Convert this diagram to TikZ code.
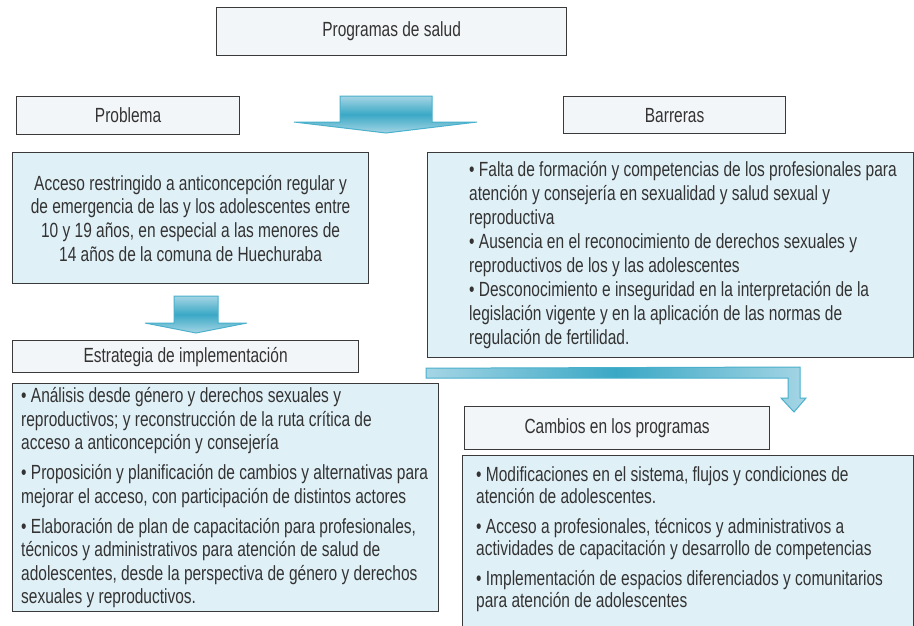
\documentclass[tikz,border=0pt]{standalone}
\usepackage{fontspec}
\setmainfont[FakeStretch=0.756]{Liberation Sans}
\usepackage{pgf,tikz}
\newcommand{\punto}{\textbullet\ }
\usetikzlibrary{shapes, arrows, positioning, calc}
\definecolor{borde}{HTML}{3A3A3A}
\definecolor{titulofondo}{HTML}{F3F6F8}
\definecolor{cajafondo}{HTML}{E0F0F7}
\definecolor{flechaclaro}{HTML}{A5D5E5}
\definecolor{flechaoscuro}{HTML}{3AA8C5}
\definecolor{flechaborde}{HTML}{4AB0CB}
\definecolor{letra}{HTML}{333333}
\tikzstyle{titulo} = [draw=borde, fill=titulofondo, line width=1.2pt, rectangle, anchor=north west, inner sep=0pt, text=letra, font=\fontsize{20.5}{24}\selectfont]
\tikzstyle{caja} = [draw=borde, fill=cajafondo, line width=1.2pt, rectangle, anchor=north west, inner sep=0pt, text=letra, font=\fontsize{20.5}{23.7}\selectfont]
\tikzstyle{lista} = [align=left, inner sep=0pt, text=letra, font=\fontsize{20.5}{23.5}\selectfont]
\tikzstyle{flecha} = [draw=flechaborde, line width=1pt, top color=flechaclaro, bottom color=flechaclaro, middle color=flechaoscuro]

\begin{document}
\begin{tikzpicture}[x=1pt, y=-1pt]
	\useasboundingbox (0,0) rectangle (914,625);
	% titulos
	\node[titulo, minimum width=350pt, minimum height=48pt] (programas) at (216,7) {Programas de salud};
	\node[titulo, minimum width=223pt, minimum height=38pt] (problema) at (16,96) {Problema};
	\node[titulo, minimum width=222pt, minimum height=37pt] (barreras) at (563,96) {Barreras};
	\node[titulo, minimum width=346pt, minimum height=32pt] (estrategia) at (12,340) {Estrategia de implementación};
	\node[titulo, minimum width=305pt, minimum height=43pt] (cambios) at (464,406) {Cambios en los programas};
	% cajas
	\node[caja, minimum width=356pt, minimum height=131pt, align=center] (acceso) at (12,152) {%
		Acceso restringido a anticoncepción regular y\\
		de emergencia de las y los adolescentes entre\\
		10 y 19 años, en especial a las menores de\\
		14 años de la comuna de Huechuraba};
	\node[caja, minimum width=486pt, minimum height=205pt] (barrerascaja) at (427,152) {};
	\node[lista, anchor=west, font=\fontsize{20.5}{24}\selectfont] (barrerastxt) at ([xshift=42pt]barrerascaja.west) {%
		\punto Falta de formación y competencias de los profesionales para\\
		atención y consejería en sexualidad y salud sexual y\\
		reproductiva\\
		\punto Ausencia en el reconocimiento de derechos sexuales y\\
		reproductivos de los y las adolescentes\\
		\punto Desconocimiento e inseguridad en la interpretación de la\\
		legislación vigente y en la aplicación de las normas de\\
		regulación de fertilidad.};
	\node[caja, minimum width=426pt, minimum height=228pt] (estrategiacaja) at (12,383) {};
	\node[lista, anchor=west] (estrategiatxt) at ([xshift=9pt]estrategiacaja.west) {%
		\punto Análisis desde género y derechos sexuales y\\
		reproductivos; y reconstrucción de la ruta crítica de\\
		acceso a anticoncepción y consejería\\[6.5pt]
		\punto Proposición y planificación de cambios y alternativas para\\
		mejorar el acceso, con participación de distintos actores\\[6.5pt]
		\punto Elaboración de plan de capacitación para profesionales,\\
		técnicos y administrativos para atención de salud de\\
		adolescentes, desde la perspectiva de género y derechos\\
		sexuales y reproductivos.};
	\node[caja, minimum width=451pt, minimum height=172pt] (cambioscaja) at (462,455) {};
	\node[lista, anchor=west, font=\fontsize{20.5}{22}\selectfont] (cambiostxt) at ([xshift=14pt, yshift=2pt]cambioscaja.west) {%
		\punto Modificaciones en el sistema, flujos y condiciones de\\
		atención de adolescentes.\\[8pt]
		\punto Acceso a profesionales, técnicos y administrativos a\\
		actividades de capacitación y desarrollo de competencias\\[8pt]
		\punto Implementación de espacios diferenciados y comunitarios\\
		para atención de adolescentes};
	% flechas
	\coordinate (flechauno) at (386,96);
	\coordinate (flechados) at (196,296);
	\draw[flecha] (flechauno) ++(-46,0) -- ++(92,0) -- ++(0,26) -- ++(45,0) -- ++(-91,11) -- ++(-92,-11) -- ++(46,0) -- cycle;
	\draw[flecha] (flechados) ++(-22,0) -- ++(44,0) -- ++(0,27) -- ++(29,0) -- ++(-51,10) -- ++(-51,-10) -- ++(29,0) -- cycle;
	\draw[flecha, left color=flechaclaro, right color=flechaclaro, middle color=flechaoscuro]
		(barrerascaja.south west) ++(-1,10) -- (800,367) -- (800,398) -- (806,398) -- (794,412) -- (781,398) -- (788,398) -- (788,378) -- (426,378) -- cycle;
\end{tikzpicture}
\end{document}
